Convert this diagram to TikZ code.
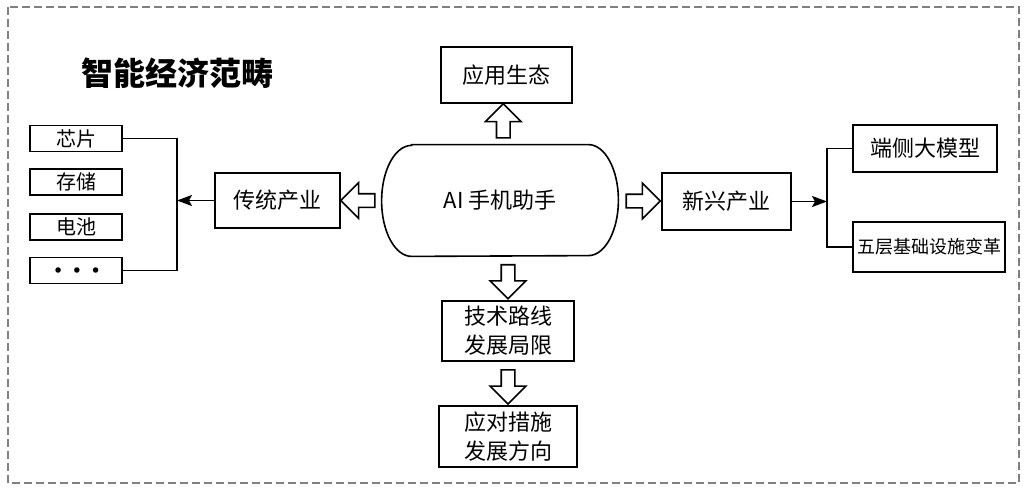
\documentclass[tikz,border=0pt]{standalone}
\usepackage{fontspec}
\setmainfont{Noto Sans CJK SC}
\usetikzlibrary{shapes.arrows,arrows.meta,calc}

\begin{document}
\begin{tikzpicture}[x=0.5pt,y=-0.5pt]
  \tikzstyle{box}=[draw, line width=0.8pt, inner sep=0pt, align=center, font=\fontsize{11}{14.5}\selectfont]
  \tikzstyle{small}=[box, minimum width=46pt, minimum height=13pt, font=\fontsize{10}{12}\selectfont]
  \tikzstyle{hollow}=[single arrow, draw, line width=0.8pt, inner xsep=0pt, inner ysep=3pt, single arrow head extend=5.5pt, minimum height=17pt]
  \tikzstyle{link}=[line width=0.8pt]
  \useasboundingbox (0,0) rectangle (1026,487);
  \draw[gray, dash pattern=on 4pt off 2pt, line width=0.6pt] (8,7) rectangle (1019,483);
  \node[font=\fontsize{16}{16}\selectfont\bfseries] (title) at (177,73) {智能经济范畴};
  % centre
  \node[minimum width=118pt, minimum height=55.5pt, font=\fontsize{11}{14}\selectfont] (ai) at (500,200.5) {AI 手机助手};
  \draw[link] ([xshift=15pt]ai.north west) -- ([xshift=-15pt]ai.north east)
    arc[start angle=90, end angle=-90, x radius=15pt, y radius=27.75pt]
    -- ([xshift=15pt]ai.south west)
    arc[start angle=270, end angle=90, x radius=15pt, y radius=27.75pt] -- cycle;
  \node[box, minimum width=65.5pt, minimum height=28pt] (app) at (506.5,75) {应用生态};
  \node[box, minimum width=62.5pt, minimum height=27.5pt] (trad) at (277.5,200.5) {传统产业};
  \node[box, minimum width=64.5pt, minimum height=28.5pt] (new) at (726.5,201.5) {新兴产业};
  \node[box, minimum width=72pt, minimum height=23.5pt] (edge) at (925,148.5) {端侧大模型};
  \node[box, minimum width=76pt, minimum height=25pt, font=\fontsize{9}{11}\selectfont] (five) at (929,247) {五层基础设施变革};
  \node[box, minimum width=66pt, minimum height=30pt] (tech) at (508,331) {技术路线\\发展局限};
  \node[box, minimum width=69pt, minimum height=30.5pt] (resp) at (508,436.5) {应对措施\\发展方向};
  % left column
  \node[small] (chip) at (76,138.5) {芯片};
  \node[small] (store) at (76,182) {存储};
  \node[small] (batt) at (76,227) {电池};
  \node[small, font=\fontsize{6}{6}\selectfont] (more) at (76,270.5) {\hspace{1pt}$\bullet$\hspace{5.5pt}$\bullet$\hspace{5.5pt}$\bullet$};
  % hollow arrows
  \node[hollow, rotate=180] (a1) at ($(ai.west)!0.5!(trad.east)$) {};
  \node[hollow, rotate=90] (a2) at ($(ai.north)!0.5!(app.south)$) {};
  \node[hollow] (a3) at ($(ai.east)!0.5!(new.west)$) {};
  \node[hollow, rotate=-90] (a4) at ($(tech.north |- ai.south)!0.5!(tech.north)$) {};
  \node[hollow, rotate=-90] (a5) at ($(tech.south)!0.5!(resp.north)$) {};
  % connectors
  \coordinate (lbus) at (177,200.5);
  \draw[link] (chip.east) -| (lbus) |- (more.east);
  \draw[link, -{Stealth[length=7.5pt, width=5.5pt, inset=1.5pt]}] (trad.west) -- (lbus);
  \coordinate (rbus) at (827,201.5);
  \draw[link, -{Stealth[length=7.5pt, width=5.5pt, inset=1.5pt]}] (new.east) -- (rbus);
  \draw[link] (edge.west) -| (rbus) |- (five.west);
\end{tikzpicture}
\end{document}
